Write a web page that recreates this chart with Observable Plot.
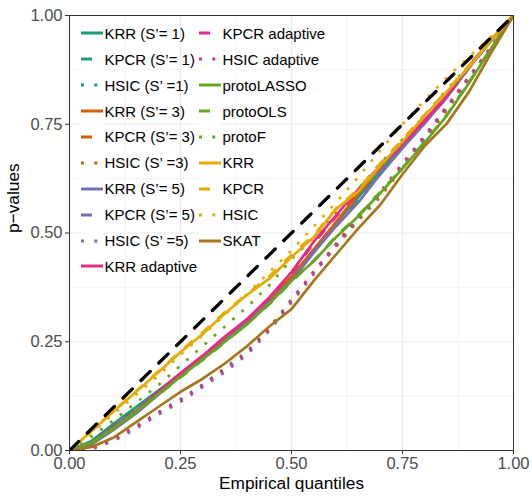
<!DOCTYPE html>
<html><head><meta charset="utf-8">
<script src="https://cdn.jsdelivr.net/npm/d3@7"></script>
<script src="https://cdn.jsdelivr.net/npm/@observablehq/plot@0.6"></script>
<style>
body{margin:0;background:#fff;}
#wrap{position:relative;width:531px;height:500px;font-family:"Liberation Sans",Arial,Helvetica,sans-serif;}
#legend{position:absolute;left:75px;top:16px;width:238px;height:269px;background:transparent;pointer-events:none;}
.item{position:absolute;height:26px;display:flex;align-items:center;font-size:15px;color:#000;white-space:nowrap;}
.item svg{display:block;background:#fff;margin-right:1.5px;}
</style></head><body><div id="wrap"></div>
<script>
// Empirical quantile grid (x) and p-value quantiles per method (y)
const quantiles = [0,0.05,0.1,0.15,0.2,0.25,0.3,0.35,0.4,0.45,0.5,0.55,0.6,0.65,0.7,0.75,0.8,0.85,0.9,0.95,1];

const krrS1   = [0,.022,.062,.100,.138,.176,.214,.256,.298,.345,.398,.462,.522,.582,.642,.700,.755,.813,.882,.943,1];
const kpcrS1  = [0,.020,.060,.098,.136,.175,.215,.258,.300,.347,.400,.460,.520,.580,.640,.698,.754,.812,.880,.942,1];
const hsicS1  = [0,.006,.026,.056,.088,.118,.152,.190,.228,.282,.348,.410,.470,.532,.588,.652,.718,.788,.856,.926,1];
const krrS3   = [0,.016,.052,.090,.132,.172,.213,.257,.300,.348,.400,.462,.525,.590,.652,.705,.760,.815,.883,.944,1];
const kpcrS3  = [0,.017,.054,.092,.133,.174,.215,.258,.302,.350,.402,.460,.522,.588,.650,.703,.758,.814,.882,.943,1];
const hsicS3  = [0,.004,.024,.053,.084,.113,.148,.183,.222,.277,.342,.408,.468,.528,.583,.648,.713,.783,.853,.924,1];
const krrS5   = [0,.014,.048,.085,.128,.170,.210,.252,.295,.340,.390,.455,.515,.570,.635,.695,.752,.812,.880,.942,1];
const kpcrS5  = [0,.015,.050,.087,.130,.171,.212,.254,.297,.342,.392,.456,.517,.572,.636,.696,.753,.813,.880,.942,1];
const hsicS5  = [0,.003,.022,.050,.082,.112,.146,.180,.220,.275,.340,.405,.472,.535,.590,.655,.720,.790,.858,.928,1];
const krrAd   = [0,.018,.055,.092,.135,.178,.218,.262,.302,.352,.410,.480,.540,.600,.655,.705,.758,.815,.885,.945,1];
const kpcrAd  = [0,.017,.054,.090,.133,.176,.217,.260,.300,.350,.408,.476,.537,.597,.652,.703,.757,.814,.884,.944,1];
const hsicAd  = [0,.005,.025,.054,.086,.116,.150,.186,.226,.280,.345,.412,.475,.538,.595,.660,.724,.792,.860,.929,1];
const protoLASSO = [0,.018,.052,.090,.130,.170,.210,.250,.290,.338,.390,.435,.490,.538,.592,.648,.708,.770,.845,.925,1];
const protoOLS   = [0,.017,.050,.088,.128,.168,.208,.249,.291,.336,.388,.436,.492,.540,.594,.650,.710,.772,.847,.926,1];
const protoF     = [0,.032,.070,.110,.150,.195,.240,.285,.330,.380,.440,.490,.548,.600,.660,.715,.770,.830,.885,.945,1];
const krr     = [0,.045,.090,.135,.180,.226,.268,.315,.358,.395,.445,.490,.555,.595,.655,.710,.770,.825,.882,.943,1];
const kpcr    = [0,.046,.092,.136,.182,.228,.272,.318,.360,.400,.450,.495,.556,.600,.660,.715,.772,.828,.885,.944,1];
const hsic    = [0,.040,.085,.128,.172,.220,.265,.312,.360,.410,.460,.515,.570,.628,.690,.750,.805,.858,.905,.952,1];
const skat    = [0,.008,.030,.065,.100,.135,.165,.200,.240,.285,.325,.390,.450,.510,.565,.635,.700,.752,.825,.915,1];

const seriesNames = ["KRR (S’= 1)","KPCR (S’= 1)","HSIC (S’ =1)","KRR (S’= 3)","KPCR (S’= 3)","HSIC (S’ =3)",
  "KRR (S’= 5)","KPCR (S’= 5)","HSIC (S’ =5)","KRR adaptive","KPCR adaptive","HSIC adaptive",
  "protoLASSO","protoOLS","protoF","KRR","KPCR","HSIC","SKAT"];
const seriesValues = [krrS1,kpcrS1,hsicS1,krrS3,kpcrS3,hsicS3,krrS5,kpcrS5,hsicS5,krrAd,kpcrAd,hsicAd,
  protoLASSO,protoOLS,protoF,krr,kpcr,hsic,skat];
const seriesColors = ["#1B9E77","#1B9E77","#1B9E77","#D95F02","#D95F02","#D95F02","#7570B3","#7570B3","#7570B3",
  "#E7298A","#E7298A","#E7298A","#66A61E","#66A61E","#66A61E","#E6AB02","#E6AB02","#E6AB02","#A6761D"];
const seriesTypes = ["solid","dashed","dotted","solid","dashed","dotted","solid","dashed","dotted","solid","dashed","dotted",
  "solid","dashed","dotted","solid","dashed","dotted","solid"];

const refLine = [0, 1];
const majorTicks = [0, 0.25, 0.5, 0.75, 1];
const minorTicks = [0.125, 0.375, 0.625, 0.875];
const xTitle = "Empirical quantiles";
const yTitle = "p\u2212values";

const dashes = {solid: null, dashed: "11,11", dotted: "2.8,9.5"};
const FONT = '"Liberation Sans", Arial, Helvetica, sans-serif';

const lineMarks = seriesNames.map((name, i) => {
  const data = quantiles.map((q, j) => ({x: q, y: seriesValues[i][j], series: name}));
  const opts = {x: "x", y: "y", stroke: seriesColors[i], strokeWidth: 2.7, clip: true, strokeLinecap: "butt", strokeLinejoin: "round"};
  if (dashes[seriesTypes[i]]) opts.strokeDasharray = dashes[seriesTypes[i]];
  return Plot.line(data, opts);
});

const plot = Plot.plot({
  width: 531, height: 500,
  marginLeft: 69, marginRight: 18, marginTop: 15, marginBottom: 50,
  x: {domain: [0, 1]}, y: {domain: [0, 1]},
  style: {fontFamily: FONT, background: "white"},
  marks: [
    Plot.gridX(minorTicks, {stroke: "#EBEBEB", strokeOpacity: 1, strokeWidth: 0.6}),
    Plot.gridY(minorTicks, {stroke: "#EBEBEB", strokeOpacity: 1, strokeWidth: 0.6}),
    Plot.gridX(majorTicks, {stroke: "#EBEBEB", strokeOpacity: 1, strokeWidth: 1.2}),
    Plot.gridY(majorTicks, {stroke: "#EBEBEB", strokeOpacity: 1, strokeWidth: 1.2}),
    ...lineMarks,
    Plot.line(refLine, {x: d => d, y: d => d, stroke: "black", strokeWidth: 3.3, strokeDasharray: "13,12", clip: true}),
    Plot.frame({stroke: "#333333", strokeWidth: 1}),
    Plot.axisX(majorTicks, {tickSize: 4, tickPadding: 3, tickFormat: d3.format(".2f"), fontSize: 16.5, stroke: "#333333", fill: "#4D4D4D", label: null}),
    Plot.axisY(majorTicks, {tickSize: 4, tickPadding: 3, tickFormat: d3.format(".2f"), fontSize: 16.5, stroke: "#333333", fill: "#4D4D4D", label: null}),
    Plot.text([xTitle], {frameAnchor: "bottom", dy: 38, text: d => d, fontSize: 17.3, fill: "black"}),
    Plot.text([yTitle], {frameAnchor: "left", dx: -56, rotate: -90, text: d => d, fontSize: 17.3, fill: "black"})
  ]
});

const wrap = document.getElementById("wrap");
wrap.appendChild(plot);

// Legend (inside the panel, two columns)
const legend = document.createElement("div");
legend.id = "legend";
wrap.appendChild(legend);
const legendDash = {solid: null, dashed: "11,11", dotted: "3,10.3"};
seriesNames.forEach((name, i) => {
  const col = i < 10 ? 0 : 1;
  const row = i < 10 ? i : i - 10;
  const item = document.createElement("div");
  item.className = "item";
  item.style.left = ((col === 0 ? 81 : 199) - 75) + "px";
  item.style.top = (33.3 + 25.9 * row - 13 - 16) + "px";
  const dash = legendDash[seriesTypes[i]];
  item.innerHTML = `<svg width="22" height="26"><line x1="0" x2="22" y1="13" y2="13" stroke="${seriesColors[i]}" stroke-width="3"${dash ? ` stroke-dasharray="${dash}"` : ""}/></svg><span>${name}</span>`;
  legend.appendChild(item);
});
</script></body></html>
